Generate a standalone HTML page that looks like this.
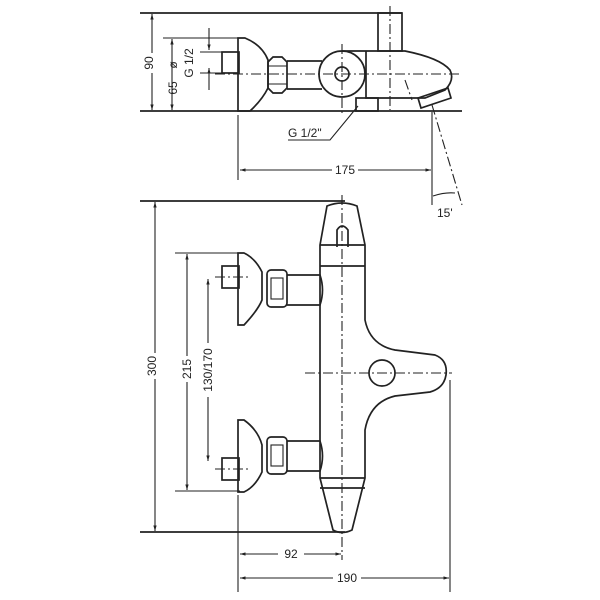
<!DOCTYPE html>
<html><head><meta charset="utf-8"><style>
body{margin:0;background:#fff}
svg{display:block}
text{font-family:"Liberation Sans",sans-serif;font-size:12px;fill:#222}
</style></head><body>
<svg width="600" height="600" viewBox="0 0 600 600" xmlns="http://www.w3.org/2000/svg">
<defs>
<marker id="a" viewBox="0 0 10 10" refX="10" refY="5" markerWidth="7" markerHeight="5" orient="auto-start-reverse"><path d="M0,2 L10,5 L0,8 z" fill="#222"/></marker>
</defs>
<g stroke="#222" stroke-width="1.7" fill="none">
<!-- TOP VIEW -->
<line x1="140" y1="13" x2="402" y2="13"/>
<line x1="140" y1="111" x2="462" y2="111"/>
<line x1="152" y1="14" x2="152" y2="110" stroke-width="1.1" marker-start="url(#a)" marker-end="url(#a)"/>
<line x1="163" y1="38" x2="240" y2="38" stroke-width="1.1"/>
<line x1="172" y1="39" x2="172" y2="110" stroke-width="1.1" marker-start="url(#a)" marker-end="url(#a)"/>
<line x1="209" y1="28" x2="209" y2="50" stroke-width="1.1" marker-end="url(#a)"/>
<line x1="209" y1="90" x2="209" y2="68" stroke-width="1.1" marker-end="url(#a)"/>
<line x1="200" y1="52" x2="222" y2="52" stroke-width="1.1"/>
<line x1="200" y1="73" x2="222" y2="73" stroke-width="1.1"/>
<path d="M238,38 L238,111 L250,111 Q262,100 268,88 L268,60 Q262,45 245,38 Z"/>
<rect x="222" y="52" width="17" height="21"/>
<path d="M268,62 L273,57 L282,57 L287,62 L287,88 L282,93 L273,93 L268,88 Z"/>
<line x1="268" y1="66" x2="287" y2="66" stroke-width="1.1"/>
<line x1="268" y1="84" x2="287" y2="84" stroke-width="1.1"/>
<line x1="287" y1="61" x2="322" y2="61"/>
<line x1="287" y1="89" x2="322" y2="89"/>
<circle cx="342" cy="74" r="23"/>
<circle cx="342" cy="74" r="7"/>
<path d="M342,51 L405,51 Q440,58 450,70 Q455,80 445,90 L425,98 L366,98 L366,51"/>
<rect x="378" y="13" width="24" height="38"/>
<rect x="356" y="98" width="22" height="13"/>
<path d="M418,98 L448,88 L451,98 L421,108 Z"/>
<path d="M288,140 L330,140 L358,106" stroke-width="1.1"/>
<g stroke-width="1.1" stroke-dasharray="10,3,2,3">
<line x1="215" y1="74" x2="462" y2="74"/>
<line x1="390" y1="6" x2="390" y2="110"/>
<line x1="342" y1="44" x2="342" y2="114"/>
<line x1="432" y1="105" x2="462" y2="205"/>
<line x1="405" y1="80" x2="412" y2="100"/>
</g>
<line x1="238" y1="115" x2="238" y2="180" stroke-width="1.1"/>
<line x1="432" y1="112" x2="432" y2="205" stroke-width="1.1"/>
<line x1="240" y1="170" x2="431" y2="170" stroke-width="1.1" marker-start="url(#a)" marker-end="url(#a)"/>
<path d="M433,196 Q445,192 455,193" stroke-width="1.1"/>
<!-- FRONT VIEW -->
<line x1="140" y1="201" x2="345" y2="201"/>
<line x1="140" y1="532" x2="345" y2="532"/>
<line x1="155" y1="202" x2="155" y2="531" stroke-width="1.1" marker-start="url(#a)" marker-end="url(#a)"/>
<line x1="175" y1="253" x2="240" y2="253" stroke-width="1.1"/>
<line x1="175" y1="491" x2="240" y2="491" stroke-width="1.1"/>
<line x1="187" y1="254" x2="187" y2="490" stroke-width="1.1" marker-start="url(#a)" marker-end="url(#a)"/>
<line x1="208" y1="279" x2="208" y2="461" stroke-width="1.1" marker-start="url(#a)" marker-end="url(#a)"/>
<path d="M238,253 L238,325 L244,325 Q258,310 262,300 L262,272 Q255,258 244,253 Z"/>
<path d="M238,420 L238,492 L244,492 Q255,487 262,472 L262,445 Q258,430 244,420 Z"/>
<rect x="222" y="266" width="17" height="22"/>
<rect x="222" y="458" width="17" height="22"/>
<rect x="267" y="270" width="20" height="37" rx="4"/>
<rect x="271" y="278" width="12" height="21" stroke-width="1.1"/>
<rect x="267" y="437" width="20" height="37" rx="4"/>
<rect x="271" y="445" width="12" height="21" stroke-width="1.1"/>
<path d="M287,275 L320,275 Q325,290 320,305 L287,305"/>
<path d="M287,441 L320,441 Q325,456 320,471 L287,471"/>
<path d="M320,245 L327,206 Q342,200 357,206 L365,245 L365,320 Q370,345 395,350 L435,355 Q448,360 446,375 Q444,388 430,392 L395,396 Q370,402 365,430 L365,478 L352,530 Q342,535 333,530 L320,478 Z"/>
<line x1="320" y1="245" x2="365" y2="245"/>
<line x1="320" y1="266" x2="365" y2="266"/>
<line x1="320" y1="478" x2="365" y2="478"/>
<line x1="320" y1="488" x2="365" y2="488"/>
<path d="M337,247 L337,230 Q342,222 348,230 L348,247"/>
<circle cx="382" cy="373" r="13"/>
<g stroke-width="1.1" stroke-dasharray="10,3,2,3">
<line x1="342" y1="195" x2="342" y2="560"/>
<line x1="305" y1="373" x2="452" y2="373"/>
<line x1="215" y1="277" x2="250" y2="277"/>
<line x1="215" y1="469" x2="250" y2="469"/>
</g>
<line x1="238" y1="495" x2="238" y2="592" stroke-width="1.1"/>
<line x1="450" y1="380" x2="450" y2="592" stroke-width="1.1"/>
<line x1="240" y1="554" x2="341" y2="554" stroke-width="1.1" marker-start="url(#a)" marker-end="url(#a)"/>
<line x1="240" y1="578" x2="449" y2="578" stroke-width="1.1" marker-start="url(#a)" marker-end="url(#a)"/>
</g>
<g fill="#fff">
<rect x="142" y="53" width="13" height="20"/>
<rect x="332" y="164" width="26" height="12"/>
<rect x="144" y="353" width="13" height="26"/>
<rect x="179" y="356" width="13" height="26"/>
<rect x="200" y="343" width="13" height="54"/>
<rect x="278" y="548" width="26" height="12"/>
<rect x="333" y="572" width="28" height="12"/>
</g>
<text transform="translate(153,63) rotate(-90)" text-anchor="middle">90</text>
<text transform="translate(177,88) rotate(-90)" text-anchor="middle">65</text>
<text transform="translate(177,65) rotate(-90)" text-anchor="middle">ø</text>
<text transform="translate(193,63) rotate(-90)" text-anchor="middle">G 1/2</text>
<text x="288" y="137">G 1/2"</text>
<text x="345" y="174" text-anchor="middle">175</text>
<text x="437" y="217">15'</text>
<text transform="translate(156,366) rotate(-90)" text-anchor="middle">300</text>
<text transform="translate(191,369) rotate(-90)" text-anchor="middle">215</text>
<text transform="translate(212,370) rotate(-90)" text-anchor="middle">130/170</text>
<text x="291" y="558" text-anchor="middle">92</text>
<text x="347" y="582" text-anchor="middle">190</text>
</svg>
</body></html>
